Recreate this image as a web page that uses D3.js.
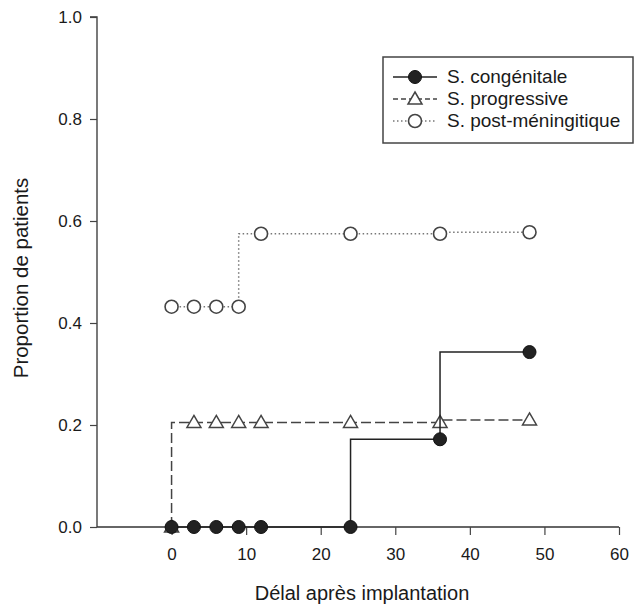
<!DOCTYPE html>
<html><head><meta charset="utf-8">
<script src="https://cdn.jsdelivr.net/npm/d3@7"></script>
<style>body{margin:0;background:#fff}svg{display:block}text{font-family:"Liberation Sans",Arial,sans-serif;fill:#1a1a1a}</style>
</head><body>
<script>
const times = [0, 3, 6, 9, 12, 24, 36, 48];
const congenitale = [0, 0, 0, 0, 0, 0, 0.172, 0.343];
const progressive = [0, 0.205, 0.205, 0.205, 0.205, 0.205, 0.205, 0.21];
const postMeningitique = [0.432, 0.432, 0.432, 0.432, 0.575, 0.575, 0.575, 0.578];
const seriesNames = ["S. congénitale", "S. progressive", "S. post-méningitique"];
const xTicks = [0, 10, 20, 30, 40, 50, 60];
const yTicks = [0, 0.2, 0.4, 0.6, 0.8, 1.0];
const xLabel = "Délal après implantation";
const yLabel = "Proportion de patients";

const W = 640, H = 607;
const svg = d3.select("body").append("svg").attr("width", W).attr("height", H);
const x = d3.scaleLinear().domain([-10, 60]).range([97, 619]);
const y = d3.scaleLinear().domain([0, 1]).range([527, 17]);

// axes
const xAxis = svg.append("g").attr("transform", `translate(0,${y(0)})`)
  .call(d3.axisBottom(x).tickValues(xTicks).tickFormat(d3.format("d")).tickSize(8).tickPadding(13));
const yAxis = svg.append("g").attr("transform", `translate(${x(-10)},0)`)
  .call(d3.axisLeft(y).tickValues(yTicks).tickFormat(d3.format(".1f")).tickSize(7).tickPadding(8));
[xAxis, yAxis].forEach(g => {
  g.select(".domain").attr("stroke", "#333").attr("stroke-width", 1.3);
  g.selectAll(".tick line").attr("stroke", "#444").attr("stroke-width", 1.2);
  g.selectAll(".tick text").attr("font-size", 17).attr("fill", "#1a1a1a").style("font-family", '"Liberation Sans",Arial,sans-serif');
});
yAxis.select(".domain").attr("d", `M-7,${y(1)}H0V${y(0)}`);
xAxis.select(".domain").attr("d", `M0,0H${x(60)-x(-10)}`).attr("transform", `translate(${x(-10)},0)`);

svg.append("text").attr("x", 362).attr("y", 600).attr("text-anchor", "middle").attr("font-size", 20).text(xLabel);
svg.append("text").attr("transform", `translate(28,278) rotate(-90)`).attr("text-anchor", "middle").attr("font-size", 20.5).text(yLabel);

const mk = vals => times.map((t, i) => [t, vals[i]]);
const line = d3.line().x(d => x(d[0])).y(d => y(d[1])).curve(d3.curveStepBefore);

const styles = [
  {data: mk(congenitale), stroke: "#222", dash: null, width: 1.5, marker: "filled"},
  {data: mk(progressive), stroke: "#444", dash: "10,4", width: 1.5, marker: "tri"},
  {data: mk(postMeningitique), stroke: "#777", dash: "1.5,2.5", width: 1.5, marker: "open"}
];

function drawMarker(g, type, cx, cy) {
  if (type === "filled") {
    g.append("circle").attr("cx", cx).attr("cy", cy).attr("r", 6.5).attr("fill", "#222").attr("stroke", "#111").attr("stroke-width", 1);
  } else if (type === "open") {
    g.append("circle").attr("cx", cx).attr("cy", cy).attr("r", 6.5).attr("fill", "#fff").attr("stroke", "#444").attr("stroke-width", 1.6);
  } else {
    g.append("path").attr("d", `M${cx},${cy-7}L${cx+7},${cy+5}L${cx-7},${cy+5}Z`).attr("fill", "#fff").attr("stroke", "#444").attr("stroke-width", 1.5);
  }
}

// draw order: post-méningitique, progressive, congénitale on top
[2, 1, 0].forEach(k => {
  const s = styles[k];
  const g = svg.append("g");
  g.append("path").attr("d", line(s.data)).attr("fill", "none").attr("stroke", s.stroke)
    .attr("stroke-width", s.width).attr("stroke-dasharray", s.dash);
  s.data.forEach(d => drawMarker(g, s.marker, x(d[0]), y(d[1])));
});

// legend
const lg = svg.append("g");
lg.append("rect").attr("x", 383).attr("y", 57).attr("width", 250).attr("height", 86)
  .attr("fill", "#fff").attr("stroke", "#444").attr("stroke-width", 1.5);
seriesNames.forEach((name, i) => {
  const s = styles[i];
  const cy = 77 + i * 22;
  lg.append("line").attr("x1", 393).attr("x2", 437).attr("y1", cy).attr("y2", cy)
    .attr("stroke", s.stroke).attr("stroke-width", s.width).attr("stroke-dasharray", s.dash ? (i === 1 ? "5,3" : "1.5,2.5") : null);
  drawMarker(lg, s.marker, 415, cy);
  lg.append("text").attr("x", 447).attr("y", cy + 6).attr("font-size", 19).text(name);
});
</script>
</body></html>
